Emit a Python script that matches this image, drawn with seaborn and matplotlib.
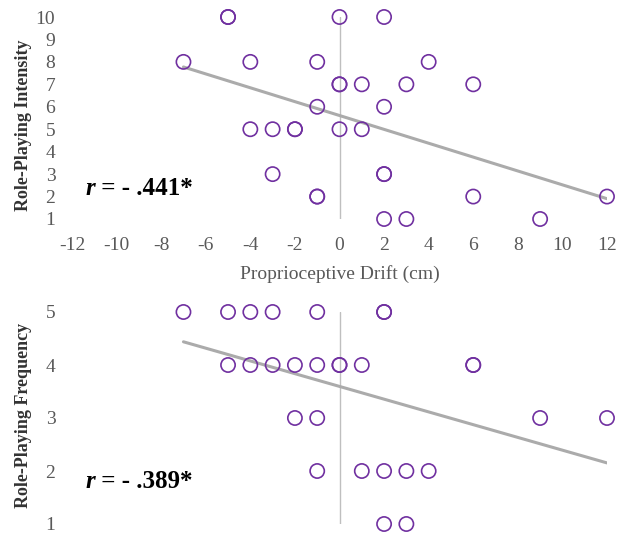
import matplotlib
matplotlib.use("Agg")
import matplotlib.pyplot as plt
import seaborn as sns
import numpy as np
import pandas as pd

# Data
drift_int = [-5, -5, 0, 2, -7, -4, -1, 4, 0, 0, 1, 3, 6, -1, 2, -4, -3, -2, -2, 0, 1,
             -3, 2, 2, -1, -1, 6, 12, 2, 3, 9]
intensity = [10, 10, 10, 10, 8, 8, 8, 8, 7, 7, 7, 7, 7, 6, 6, 5, 5, 5, 5, 5, 5,
             3, 3, 3, 2, 2, 2, 2, 1, 1, 1]
drift_freq = [-7, -5, -4, -3, -1, 2, 2, -5, -4, -3, -2, -1, 0, 0, 1, 6, 6,
              -2, -1, 9, 12, -1, 1, 2, 3, 4, 2, 3]
frequency = [5, 5, 5, 5, 5, 5, 5, 4, 4, 4, 4, 4, 4, 4, 4, 4, 4,
             3, 3, 3, 3, 2, 2, 2, 2, 2, 1, 1]
x_ticks = list(range(-12, 13, 2))
int_ticks = list(range(1, 11))
freq_ticks = list(range(1, 6))
r_int = "- .441*"
r_freq = "- .389*"

sns.set_theme(style="white")
plt.rcParams['font.family'] = ['Liberation Serif', 'DejaVu Serif']

W, H = 629, 536
fig = plt.figure(figsize=(W / 100, H / 100), dpi=100)

def axrect(l, r, t, b):
    return [l / W, 1 - b / H, (r - l) / W, (b - t) / H]

ax1 = fig.add_axes(axrect(72, 607, 17, 219))
ax2 = fig.add_axes(axrect(72, 607, 312, 524))

purple = "#7030A0"
gray_line = "#ABABAB"
tick_col = "#595959"

df1 = pd.DataFrame({"drift": drift_int, "val": intensity})
df2 = pd.DataFrame({"drift": drift_freq, "val": frequency})

for ax, df, yt, ylab, rtxt, show_x in [
    (ax1, df1, int_ticks, "Role-Playing Intensity", r_int, True),
    (ax2, df2, freq_ticks, "Role-Playing Frequency", r_freq, False),
]:
    ax.axvline(0, color="#BFBFBF", lw=1.0, zorder=1)
    sns.regplot(data=df, x="drift", y="val", ax=ax, ci=None, scatter=False,
                line_kws=dict(color=gray_line, lw=2.2, zorder=2))
    sns.scatterplot(data=df, x="drift", y="val", ax=ax, s=105, marker="o",
                    facecolor="none", edgecolor=purple, linewidth=1.2,
                    zorder=3, clip_on=False)
    ax.set_xlim(-12, 12)
    ax.set_ylim(yt[0], yt[-1])
    ax.set_yticks(yt)
    ax.set_yticklabels([str(v) for v in yt], fontsize=14, color=tick_col)
    ax.tick_params(axis="y", length=0, pad=12)
    if show_x:
        ax.set_xticks(x_ticks)
        ax.set_xticklabels([str(v) for v in x_ticks], fontsize=14, color=tick_col)
        ax.tick_params(axis="x", length=0, pad=13)
        ax.set_xlabel("Proprioceptive Drift (cm)", fontsize=14, color=tick_col, labelpad=8)
    else:
        ax.set_xticks([])
        ax.set_xlabel("")
    ax.set_ylabel(ylab, fontsize=13, fontweight="bold", color="#333333")
    for s in ax.spines.values():
        s.set_visible(False)
    ax.grid(False)

ax1.yaxis.set_label_coords(-0.075, 0.465)
ax2.yaxis.set_label_coords(-0.075, 0.51)

# r annotations
for ypix, rtxt in [(195, r_int), (488, r_freq)]:
    t1 = fig.text(85 / W, 1 - ypix / H, "r", fontsize=18, style="italic",
                  fontweight="bold", color="black", va="baseline")
    plt.annotate(" = " + rtxt, xy=(1, 0), xycoords=t1, xytext=(0, 0),
                 textcoords="offset points", fontsize=18, fontweight="bold",
                 color="black", va="bottom", ha="left",
                 annotation_clip=False)

fig.savefig("out.png", dpi=100)
